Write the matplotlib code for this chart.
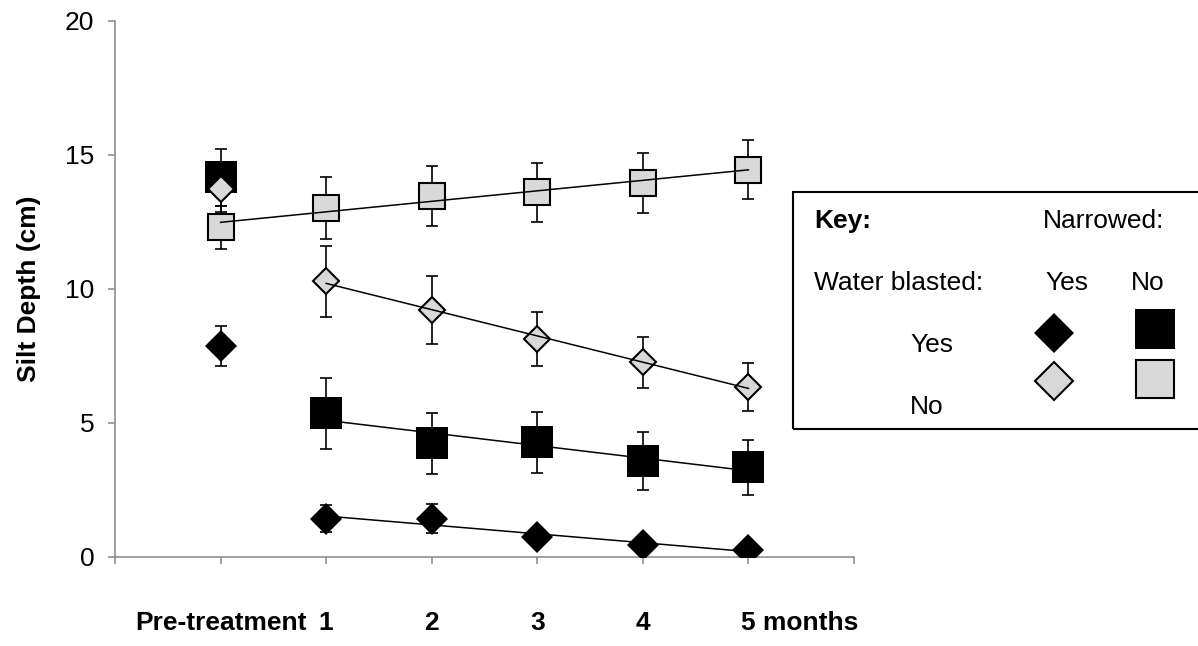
import matplotlib.pyplot as plt
import numpy as np
from matplotlib.patches import Rectangle

plt.rcParams['font.family'] = ['Liberation Sans', 'DejaVu Sans']

# Months after treatment (0 = pre-treatment)
months = np.array([0, 1, 2, 3, 4, 5])
x_labels = ['Pre-treatment', '1', '2', '3', '4', '5 months']

# Mean silt depth (cm) and error for each treatment combination
blasted_narrowed = np.array([7.86, 1.41, 1.41, 0.74, 0.43, 0.24])
blasted_narrowed_err = np.array([0.75, 0.5, 0.55, 0.3, 0.25, 0.2])
blasted_open = np.array([14.15, 5.35, 4.22, 4.26, 3.55, 3.33])
blasted_open_err = np.array([1.05, 1.32, 1.15, 1.15, 1.08, 1.03])
unblasted_narrowed = np.array([13.72, 10.27, 9.19, 8.12, 7.25, 6.34])
unblasted_narrowed_err = np.array([0.87, 1.33, 1.27, 1.0, 0.96, 0.9])
unblasted_open = np.array([12.29, 13.0, 13.45, 13.6, 13.94, 14.44])
unblasted_open_err = np.array([0.8, 1.15, 1.13, 1.1, 1.11, 1.11])

W, H = 1198, 646
GREY = '#d9d9d9'
AXIS = '#868686'
FS = 19

fig = plt.figure(figsize=(W / 100, H / 100), dpi=100)
ax = fig.add_axes([115 / W, 1 - 556.5 / H, (854 - 115) / W, (556.5 - 20.7) / H])
ax.set_xlim(-1, 6)
ax.set_ylim(0, 20)

# series: values, errors, marker, size, face, first month of trendline
series = [
    (blasted_narrowed, blasted_narrowed_err, 'D', 16.8, 'black', 1),
    (blasted_open, blasted_open_err, 's', 23.5, 'black', 1),
    (unblasted_narrowed, unblasted_narrowed_err, 'D', 13.2, GREY, 1),
    (unblasted_open, unblasted_open_err, 's', 18.5, GREY, 0),
]

for i, (y, err, mk, ms, fc, start) in enumerate(series):
    ax.errorbar(months, y, yerr=err, fmt='none', ecolor='black',
                elinewidth=1.2, capsize=4.5, capthick=1.2, zorder=2 + i * 0.1)
    ax.plot(months, y, linestyle='none', marker=mk, markersize=ms,
            markerfacecolor=fc, markeredgecolor='black',
            markeredgewidth=1.5 if fc == GREY else 0, zorder=3 + i * 0.1)
    # linear trendline
    xs = months[start:]
    slope, icpt = np.polyfit(xs, y[start:], 1)
    xl = np.array([xs[0], xs[-1]])
    ax.plot(xl, slope * xl + icpt, color='black', lw=1.1, zorder=5)

for side in ['top', 'right']:
    ax.spines[side].set_visible(False)
for side in ['left', 'bottom']:
    ax.spines[side].set_color(AXIS)
    ax.spines[side].set_linewidth(1.1)

ax.set_xticks(np.arange(-1, 7))
ax.set_xticklabels([])
ax.set_yticks([0, 5, 10, 15, 20])
ax.tick_params(axis='both', direction='out', length=5, width=1.1, color=AXIS,
               labelsize=FS, pad=10)

# category labels under the axis
tr = ax.get_xaxis_transform()
for m, lab in zip(months, x_labels):
    if lab == 'Pre-treatment':
        ax.text(m, -0.125, lab, transform=tr, ha='center', va='center',
                fontsize=FS, fontweight='bold')
    else:
        ax.text(m - 0.07, -0.125, lab, transform=tr, ha='left', va='center',
                fontsize=FS, fontweight='bold')

fig.text(29 / W, 1 - 288.6 / H, 'Silt Depth (cm)', rotation=90,
         ha='center', va='center', fontsize=FS, fontweight='bold')


# key box
def fx(px):
    return px / W


def fy(py):
    return 1 - py / H


fig.patches.append(Rectangle((fx(792.7), fy(429)), fx(1220) - fx(792.7),
                             fy(191.7) - fy(429), transform=fig.transFigure,
                             fill=False, edgecolor='black', lw=1.5))

fig.text(fx(814), fy(228), 'Key:', fontsize=FS, fontweight='bold', va='baseline')
fig.text(fx(1043), fy(228), 'Narrowed:', fontsize=FS, va='baseline')
fig.text(fx(814), fy(290), 'Water blasted:', fontsize=FS, va='baseline')
fig.text(fx(1045), fy(290), 'Yes', fontsize=FS, va='baseline')
fig.text(fx(1131), fy(290), 'No', fontsize=FS, va='baseline')
fig.text(fx(910), fy(352), 'Yes', fontsize=FS, va='baseline')
fig.text(fx(910), fy(414), 'No', fontsize=FS, va='baseline')

key_marks = [
    (1054, 332.7, 'D', 20.4, 'black'),
    (1155, 329, 's', 28.8, 'black'),
    (1054, 381, 'D', 19.4, GREY),
    (1155, 379.3, 's', 27.5, GREY),
]
for px, py, mk, ms, fc in key_marks:
    fig.add_artist(plt.Line2D([fx(px)], [fy(py)], marker=mk, markersize=ms,
                              markerfacecolor=fc, markeredgecolor='black',
                              markeredgewidth=1.5 if fc == GREY else 0,
                              transform=fig.transFigure))

fig.savefig('out.png', dpi=100)
